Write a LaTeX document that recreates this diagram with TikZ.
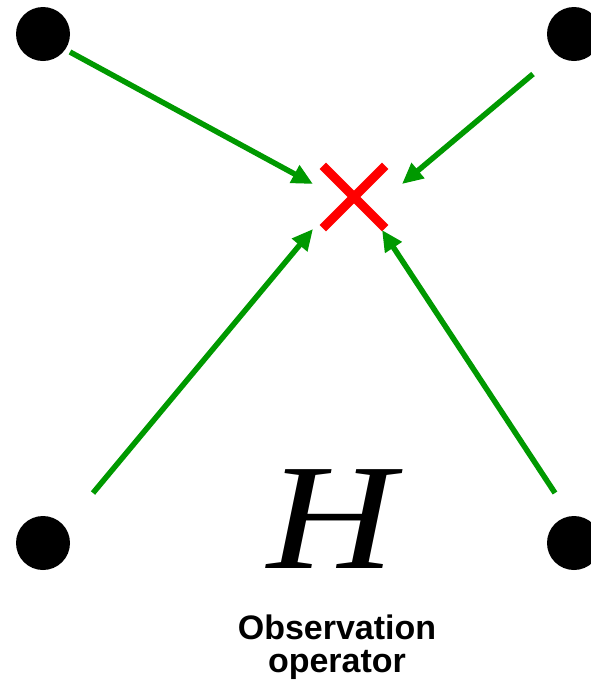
\documentclass[tikz,border=0pt]{standalone}
\usepackage{fontspec}
\setsansfont{Liberation Sans}
\newfontfamily\timesfont{Liberation Serif}
\usepackage{tikz}
\usetikzlibrary{
  arrows.meta,
  calc,
  positioning
}
\definecolor{obsgreen}{RGB}{0,153,0}
\definecolor{obsred}{RGB}{255,0,0}
\tikzset{
  gridpoint/.style={
    circle, fill=black, inner sep=0pt,
    minimum size=54pt
  },
  target/.style={
    inner sep=0pt, minimum size=62pt
  },
  crossline/.style={draw=obsred, line width=9pt},
  obsarrow/.style={-{Triangle[length=21pt,width=19pt]}, draw=obsgreen, line width=5.5pt},
  oplabel/.style={
    font=\sffamily\bfseries\fontsize{34}{33}\selectfont,
    align=center, inner sep=0pt
  }
}

\begin{document}
\begin{tikzpicture}[x=1pt, y=-1pt]
\useasboundingbox (0,0) rectangle (591,689);

% Grid points
\node[gridpoint] (tl) at (43,34) {};
\node[gridpoint] (tr) at (574,34) {};
\node[gridpoint] (bl) at (43,543) {};
\node[gridpoint] (br) at (574,543) {};

% Observation location
\node[target] (obs) at (354,197) {};
\draw[crossline] (obs.north west) -- (obs.south east);
\draw[crossline] (obs.north east) -- (obs.south west);

% Interpolation arrows
\draw[obsarrow] ($(tl)+(27,18)$) -- ($(obs)+(-41,-13)$);
\draw[obsarrow] ($(tr)+(-41,40)$) -- ($(obs)+(48,-13)$);
\draw[obsarrow] ($(bl)+(50,-50)$) -- ($(obs)+(-41,32)$);
\draw[obsarrow] ($(br)+(-19,-50)$) -- ($(obs)+(28,33)$);

% Operator
\node[inner sep=0pt, anchor=base] (hop) at (331,568)
  {\timesfont\itshape\fontsize{151}{151}\selectfont\scalebox{1.17}[1]{H}};
\node[oplabel, anchor=base] (hname) at (337,672) {Observation\\operator};

\end{tikzpicture}
\end{document}
